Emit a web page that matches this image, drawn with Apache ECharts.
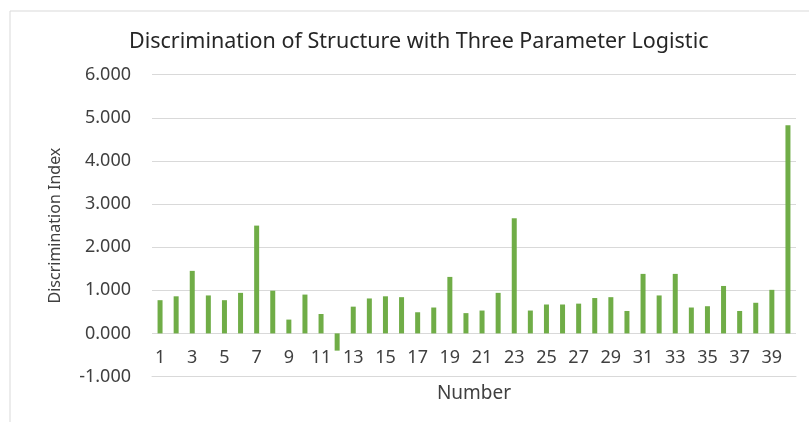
<!DOCTYPE html>
<html>
<head>
<meta charset="utf-8">
<script src="https://cdn.jsdelivr.net/npm/echarts@6/dist/echarts.min.js"></script>
<style>
  html, body { margin: 0; padding: 0; background: #fff; }
  #chart { width: 809px; height: 422px; }
</style>
</head>
<body>
<div id="chart"></div>
<script>
// item numbers 1..40
var numbers = ['1','2','3','4','5','6','7','8','9','10','11','12','13','14','15','16','17','18','19','20',
               '21','22','23','24','25','26','27','28','29','30','31','32','33','34','35','36','37','38','39','40'];
// discrimination index
var discrimination = [0.77, 0.86, 1.45, 0.88, 0.77, 0.94, 2.50, 0.99, 0.32, 0.90,
                      0.45, -0.40, 0.62, 0.81, 0.86, 0.84, 0.49, 0.60, 1.31, 0.47,
                      0.53, 0.94, 2.67, 0.53, 0.67, 0.67, 0.69, 0.82, 0.84, 0.52,
                      1.38, 0.88, 1.38, 0.60, 0.63, 1.10, 0.52, 0.71, 1.01, 4.83];

var font = 'Noto Sans';
var myChart = echarts.init(document.getElementById('chart'));

var option = {
    backgroundColor: '#fff',
    animation: false,
    title: {
        text: 'Discrimination of Structure with Three Parameter Logistic',
        left: 124,
        top: 26,
        textStyle: { fontFamily: font, fontSize: 21.5, fontWeight: 'normal', color: '#262626' }
    },
    graphic: [{
        type: 'rect',
        shape: { x: 10, y: 11, width: 820, height: 430 },
        style: { fill: 'none', stroke: '#d9d9d9', lineWidth: 1 },
        silent: true
    }],
    grid: { left: 152, right: 13, top: 74.7, bottom: 45.5, outerBoundsMode: 'none' },
    xAxis: {
        type: 'category',
        data: numbers,
        name: 'Number',
        nameLocation: 'middle',
        nameGap: 8,
        nameTextStyle: { fontFamily: font, fontSize: 19, color: '#404040' },
        axisLine: { onZero: false, lineStyle: { color: '#d9d9d9' } },
        axisTick: { show: false },
        axisLabel: { interval: 1, margin: -28, fontFamily: font, fontSize: 18, color: '#404040' }
    },
    yAxis: {
        type: 'value',
        min: -1,
        max: 6,
        interval: 1,
        name: 'Discrimination Index',
        nameLocation: 'middle',
        nameGap: 89,
        nameTextStyle: { fontFamily: font, fontSize: 16, color: '#404040' },
        axisLine: { show: false },
        axisTick: { show: false },
        axisLabel: {
            margin: 21,
            fontFamily: font, fontSize: 18, color: '#404040',
            formatter: function (v) { return v.toFixed(3); }
        },
        splitLine: { lineStyle: { color: '#d9d9d9', width: 1 } }
    },
    series: [{
        type: 'bar',
        data: discrimination,
        barWidth: 5,
        itemStyle: { color: '#70ad47' }
    }]
};

myChart.setOption(option);
</script>
</body>
</html>
